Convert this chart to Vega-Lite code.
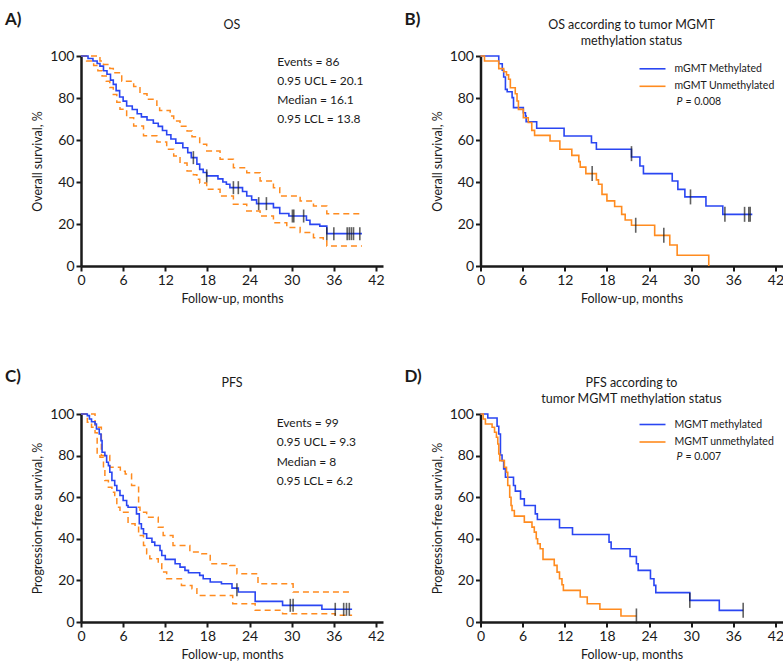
{
"$schema": "https://vega.github.io/schema/vega-lite/v6.json",
"background": "white",
"padding": {"left": 5, "top": 10, "right": 0, "bottom": 0},
"config": {
  "view": {"stroke": null},
  "font": "Lato",
  "axis": {"grid": false, "domainColor": "#1a1a1a", "domainWidth": 2.5, "tickColor": "#1a1a1a", "tickWidth": 2, "tickSize": 5, "labelFont": "Lato", "labelFontSize": 14, "labelColor": "#1a1a1a", "labelPadding": 2, "titleFont": "Lato", "titleFontSize": 12.5, "titleFontWeight": "normal", "titleColor": "#1a1a1a", "labelFlush": false, "labelOverlap": false, "titlePadding": 5},
  "legend": {"padding": 0, "labelFont": "Lato", "labelFontSize": 10.5, "labelColor": "#1a1a1a", "titleFont": "Lato"}
},
"datasets": {
  "A_est": [{"t":0,"s":100},{"t":1.0,"s":98.8},{"t":1.7,"s":97.6},{"t":2.3,"s":96.4},{"t":2.7,"s":95.2},{"t":3.2,"s":93},{"t":3.7,"s":91.3},{"t":4.2,"s":88.5},{"t":4.6,"s":86.5},{"t":5.0,"s":83.5},{"t":5.5,"s":80.5},{"t":6.0,"s":78.5},{"t":6.5,"s":76.2},{"t":7.3,"s":74.5},{"t":8.0,"s":72.5},{"t":8.6,"s":71},{"t":9.4,"s":69.5},{"t":10.3,"s":68},{"t":11.0,"s":66.5},{"t":11.6,"s":64.5},{"t":12.2,"s":62.5},{"t":12.8,"s":60.5},{"t":13.5,"s":58.5},{"t":14.5,"s":56.3},{"t":15.2,"s":54},{"t":15.7,"s":51.6},{"t":16.5,"s":48.5},{"t":16.9,"s":46},{"t":17.4,"s":44.5},{"t":17.9,"s":42.9},{"t":19.5,"s":41.5},{"t":20.2,"s":40},{"t":20.7,"s":38.9},{"t":21.2,"s":37.3},{"t":23.0,"s":35.5},{"t":23.6,"s":33.3},{"t":24.3,"s":31.5},{"t":25.0,"s":29.7},{"t":27.4,"s":27.8},{"t":28.3,"s":25},{"t":29.6,"s":23.8},{"t":32.1,"s":21.8},{"t":32.6,"s":19.8},{"t":34.0,"s":19},{"t":35.0,"s":15.4},{"t":40.0,"s":15.4}],
  "A_ci": [
    {"g":"u","t":0,"s":100},{"g":"u","t":2.7,"s":97.6},{"g":"u","t":3.2,"s":96},{"g":"u","t":4.1,"s":94},{"g":"u","t":4.6,"s":92},{"g":"u","t":5.8,"s":88},{"g":"u","t":7.5,"s":85.5},{"g":"u","t":8.4,"s":82},{"g":"u","t":9.4,"s":79.4},{"g":"u","t":10.8,"s":76.5},{"g":"u","t":11.2,"s":74},{"g":"u","t":12.7,"s":71.4},{"g":"u","t":13.2,"s":69},{"g":"u","t":14.1,"s":66.5},{"g":"u","t":15.1,"s":64.3},{"g":"u","t":15.8,"s":61.5},{"g":"u","t":16.9,"s":58},{"g":"u","t":17.9,"s":54.8},{"g":"u","t":19.8,"s":50.8},{"g":"u","t":21.7,"s":46.8},{"g":"u","t":23.6,"s":44.4},{"g":"u","t":25.5,"s":40.5},{"g":"u","t":27.4,"s":37.3},{"g":"u","t":28.3,"s":33.3},{"g":"u","t":31.2,"s":31},{"g":"u","t":33.1,"s":28.6},{"g":"u","t":35.0,"s":24.9},{"g":"u","t":40.0,"s":24.9},
    {"g":"l","t":0,"s":100},{"g":"l","t":0.8,"s":97.6},{"g":"l","t":1.8,"s":95.5},{"g":"l","t":2.4,"s":93},{"g":"l","t":3.0,"s":90.5},{"g":"l","t":3.6,"s":88},{"g":"l","t":4.1,"s":85},{"g":"l","t":4.6,"s":81.7},{"g":"l","t":5.1,"s":78},{"g":"l","t":5.55,"s":74.6},{"g":"l","t":6.5,"s":70.6},{"g":"l","t":7.5,"s":66.7},{"g":"l","t":8.9,"s":62},{"g":"l","t":10.8,"s":59},{"g":"l","t":12.2,"s":55.6},{"g":"l","t":13.2,"s":52.4},{"g":"l","t":14.1,"s":49},{"g":"l","t":15.1,"s":45.2},{"g":"l","t":16.0,"s":43.5},{"g":"l","t":16.5,"s":41.3},{"g":"l","t":16.9,"s":39.5},{"g":"l","t":17.9,"s":36.5},{"g":"l","t":19.8,"s":33.3},{"g":"l","t":21.7,"s":29.4},{"g":"l","t":23.6,"s":26.2},{"g":"l","t":25.5,"s":23.8},{"g":"l","t":27.4,"s":20.6},{"g":"l","t":29.3,"s":18.3},{"g":"l","t":31.2,"s":15.9},{"g":"l","t":33.1,"s":13.5},{"g":"l","t":34.5,"s":11.9},{"g":"l","t":35.0,"s":9.5},{"g":"l","t":40.0,"s":9.5}],
  "A_cens": [{"t":16.0,"s":51.6},{"t":17.9,"s":42.9},{"t":21.7,"s":37.3},{"t":22.4,"s":37.3},{"t":25.3,"s":29.7},{"t":26.4,"s":29.7},{"t":30.1,"s":23.8},{"t":30.3,"s":23.8},{"t":31.7,"s":23.8},{"t":35.0,"s":15.4},{"t":36.0,"s":15.4},{"t":37.9,"s":15.4},{"t":38.2,"s":15.4},{"t":38.5,"s":15.4},{"t":38.8,"s":15.4},{"t":39.7,"s":15.4}],
  "B_km": [
    {"g":"mGMT Methylated","t":0,"s":100},{"g":"mGMT Methylated","t":2.6,"s":96.3},{"g":"mGMT Methylated","t":3.1,"s":93.2},{"g":"mGMT Methylated","t":3.3,"s":90},{"g":"mGMT Methylated","t":3.55,"s":84.1},{"g":"mGMT Methylated","t":3.8,"s":83},{"g":"mGMT Methylated","t":4.5,"s":80.2},{"g":"mGMT Methylated","t":4.7,"s":75.4},{"g":"mGMT Methylated","t":6.1,"s":73},{"g":"mGMT Methylated","t":6.4,"s":71.4},{"g":"mGMT Methylated","t":6.5,"s":68.7},{"g":"mGMT Methylated","t":8.0,"s":65.6},{"g":"mGMT Methylated","t":11.9,"s":61.9},{"g":"mGMT Methylated","t":15.8,"s":58.7},{"g":"mGMT Methylated","t":16.5,"s":55.6},{"g":"mGMT Methylated","t":21.5,"s":51.9},{"g":"mGMT Methylated","t":22.7,"s":47.6},{"g":"mGMT Methylated","t":23.2,"s":44},{"g":"mGMT Methylated","t":27.3,"s":40.5},{"g":"mGMT Methylated","t":28.1,"s":36.5},{"g":"mGMT Methylated","t":29.1,"s":32.9},{"g":"mGMT Methylated","t":32.1,"s":28.6},{"g":"mGMT Methylated","t":34.5,"s":24.6},{"g":"mGMT Methylated","t":38.7,"s":24.6},
    {"g":"mGMT Unmethylated","t":0,"s":100},{"g":"mGMT Unmethylated","t":0.57,"s":97.6},{"g":"mGMT Unmethylated","t":2.6,"s":94},{"g":"mGMT Unmethylated","t":3.3,"s":92.5},{"g":"mGMT Unmethylated","t":3.7,"s":91},{"g":"mGMT Unmethylated","t":4.0,"s":88.9},{"g":"mGMT Unmethylated","t":4.25,"s":84.9},{"g":"mGMT Unmethylated","t":4.95,"s":82},{"g":"mGMT Unmethylated","t":5.2,"s":78.6},{"g":"mGMT Unmethylated","t":5.4,"s":74.6},{"g":"mGMT Unmethylated","t":6.1,"s":70.6},{"g":"mGMT Unmethylated","t":6.8,"s":68.3},{"g":"mGMT Unmethylated","t":7.3,"s":64.6},{"g":"mGMT Unmethylated","t":7.7,"s":62.2},{"g":"mGMT Unmethylated","t":9.9,"s":59.5},{"g":"mGMT Unmethylated","t":11.3,"s":55.6},{"g":"mGMT Unmethylated","t":13.0,"s":52.7},{"g":"mGMT Unmethylated","t":14.0,"s":49.7},{"g":"mGMT Unmethylated","t":14.2,"s":47.1},{"g":"mGMT Unmethylated","t":15.0,"s":44},{"g":"mGMT Unmethylated","t":16.5,"s":41},{"g":"mGMT Unmethylated","t":16.8,"s":38.9},{"g":"mGMT Unmethylated","t":17.3,"s":34.1},{"g":"mGMT Unmethylated","t":18.0,"s":31},{"g":"mGMT Unmethylated","t":19.1,"s":28.3},{"g":"mGMT Unmethylated","t":20.1,"s":24.6},{"g":"mGMT Unmethylated","t":20.6,"s":21.9},{"g":"mGMT Unmethylated","t":21.5,"s":19.4},{"g":"mGMT Unmethylated","t":24.8,"s":14.6},{"g":"mGMT Unmethylated","t":26.95,"s":10},{"g":"mGMT Unmethylated","t":28.0,"s":5.1},{"g":"mGMT Unmethylated","t":32.5,"s":0}],
  "B_cens": [{"t":21.5,"s":53.5},{"t":29.9,"s":32.9},{"t":34.8,"s":24.6},{"t":37.6,"s":24.6},{"t":38.2,"s":24.6},{"t":38.4,"s":24.6},{"t":15.9,"s":44},{"t":22.1,"s":19.4},{"t":26.1,"s":14.6}],
  "C_est": [{"t":0,"s":100},{"t":0.9,"s":99.2},{"t":1.2,"s":97.6},{"t":1.5,"s":96.3},{"t":2.0,"s":95.2},{"t":2.2,"s":92.8},{"t":2.6,"s":90.4},{"t":2.85,"s":87.2},{"t":3.0,"s":81.6},{"t":3.4,"s":80},{"t":3.65,"s":76.8},{"t":3.9,"s":75.2},{"t":4.1,"s":72},{"t":4.4,"s":68},{"t":4.8,"s":65.6},{"t":5.1,"s":63.2},{"t":5.55,"s":60.8},{"t":6.0,"s":58.4},{"t":6.5,"s":56},{"t":6.7,"s":55.2},{"t":7.9,"s":52},{"t":8.3,"s":47.2},{"t":8.6,"s":44.8},{"t":8.9,"s":42.4},{"t":9.35,"s":40.3},{"t":10.1,"s":38.4},{"t":10.5,"s":36.8},{"t":11.25,"s":34.4},{"t":11.5,"s":32},{"t":12.0,"s":30.1},{"t":13.4,"s":28},{"t":14.1,"s":26.4},{"t":14.8,"s":24.8},{"t":15.3,"s":23.7},{"t":16.9,"s":22.4},{"t":17.4,"s":20.8},{"t":18.4,"s":19.2},{"t":20.0,"s":18.4},{"t":21.5,"s":16.3},{"t":22.4,"s":14.4},{"t":24.8,"s":9.9},{"t":28.7,"s":8},{"t":34.3,"s":6.1},{"t":38.6,"s":6.1}],
  "C_ci": [
    {"g":"u","t":0,"s":100},{"g":"u","t":2.0,"s":93.6},{"g":"u","t":2.9,"s":80},{"g":"u","t":4.1,"s":74.4},{"g":"u","t":5.6,"s":72.5},{"g":"u","t":6.3,"s":71.2},{"g":"u","t":7.2,"s":65.6},{"g":"u","t":8.2,"s":55.2},{"g":"u","t":8.4,"s":52.8},{"g":"u","t":9.35,"s":50.4},{"g":"u","t":11.0,"s":45.6},{"g":"u","t":11.7,"s":41.6},{"g":"u","t":13.1,"s":36.8},{"g":"u","t":15.5,"s":33.6},{"g":"u","t":17.2,"s":32.8},{"g":"u","t":18.4,"s":28},{"g":"u","t":21.2,"s":27.2},{"g":"u","t":22.2,"s":23.2},{"g":"u","t":25.2,"s":18.4},{"g":"u","t":30.2,"s":14.4},{"g":"u","t":38.6,"s":14.4},
    {"g":"l","t":0,"s":100},{"g":"l","t":0.9,"s":96},{"g":"l","t":1.5,"s":93.6},{"g":"l","t":2.0,"s":91},{"g":"l","t":2.3,"s":80.8},{"g":"l","t":2.7,"s":79.2},{"g":"l","t":3.2,"s":73.6},{"g":"l","t":3.4,"s":68},{"g":"l","t":3.9,"s":64.8},{"g":"l","t":4.4,"s":62.4},{"g":"l","t":4.8,"s":59.2},{"g":"l","t":5.1,"s":55.2},{"g":"l","t":5.55,"s":52.8},{"g":"l","t":6.7,"s":47.2},{"g":"l","t":7.7,"s":45.6},{"g":"l","t":8.2,"s":41.6},{"g":"l","t":8.9,"s":36.8},{"g":"l","t":9.35,"s":32.8},{"g":"l","t":9.8,"s":30.4},{"g":"l","t":11.0,"s":28},{"g":"l","t":11.5,"s":24},{"g":"l","t":12.2,"s":20.8},{"g":"l","t":14.3,"s":17.6},{"g":"l","t":15.8,"s":16},{"g":"l","t":16.5,"s":12.8},{"g":"l","t":21.6,"s":8.8},{"g":"l","t":24.8,"s":5.6},{"g":"l","t":28.7,"s":4},{"g":"l","t":36.2,"s":3.2},{"g":"l","t":38.6,"s":3.2}],
  "C_cens": [{"t":22.2,"s":15.5},{"t":29.8,"s":8},{"t":30.2,"s":8},{"t":36.2,"s":6.1},{"t":37.4,"s":6.1},{"t":37.8,"s":6.1},{"t":38.2,"s":6.1}],
  "D_km": [
    {"g":"MGMT methylated","t":0,"s":100},{"g":"MGMT methylated","t":1.04,"s":98.1},{"g":"MGMT methylated","t":2.36,"s":94.1},{"g":"MGMT methylated","t":2.6,"s":90.4},{"g":"MGMT methylated","t":2.84,"s":80.3},{"g":"MGMT methylated","t":3.07,"s":77.6},{"g":"MGMT methylated","t":3.3,"s":73.6},{"g":"MGMT methylated","t":3.55,"s":69.6},{"g":"MGMT methylated","t":4.7,"s":65.6},{"g":"MGMT methylated","t":4.96,"s":62.9},{"g":"MGMT methylated","t":5.7,"s":59.2},{"g":"MGMT methylated","t":6.24,"s":56},{"g":"MGMT methylated","t":7.8,"s":52},{"g":"MGMT methylated","t":8.1,"s":49.3},{"g":"MGMT methylated","t":11.25,"s":45.3},{"g":"MGMT methylated","t":13.1,"s":42.1},{"g":"MGMT methylated","t":18.3,"s":38.4},{"g":"MGMT methylated","t":18.6,"s":35.2},{"g":"MGMT methylated","t":21.3,"s":31.5},{"g":"MGMT methylated","t":22.2,"s":28},{"g":"MGMT methylated","t":22.45,"s":24.8},{"g":"MGMT methylated","t":24.2,"s":20.8},{"g":"MGMT methylated","t":24.7,"s":17.6},{"g":"MGMT methylated","t":24.96,"s":14.1},{"g":"MGMT methylated","t":29.8,"s":10.4},{"g":"MGMT methylated","t":34.0,"s":5.6},{"g":"MGMT methylated","t":37.4,"s":5.6},
    {"g":"MGMT unmethylated","t":0,"s":100},{"g":"MGMT unmethylated","t":0.38,"s":97.6},{"g":"MGMT unmethylated","t":0.7,"s":95.2},{"g":"MGMT unmethylated","t":1.65,"s":93.6},{"g":"MGMT unmethylated","t":2.0,"s":91.2},{"g":"MGMT unmethylated","t":2.27,"s":88.8},{"g":"MGMT unmethylated","t":2.46,"s":85.6},{"g":"MGMT unmethylated","t":2.6,"s":80.8},{"g":"MGMT unmethylated","t":2.74,"s":77.6},{"g":"MGMT unmethylated","t":3.4,"s":74.4},{"g":"MGMT unmethylated","t":3.7,"s":72},{"g":"MGMT unmethylated","t":3.88,"s":65.6},{"g":"MGMT unmethylated","t":4.16,"s":60},{"g":"MGMT unmethylated","t":4.35,"s":56},{"g":"MGMT unmethylated","t":4.49,"s":53.6},{"g":"MGMT unmethylated","t":4.82,"s":50.9},{"g":"MGMT unmethylated","t":6.24,"s":48},{"g":"MGMT unmethylated","t":7.33,"s":45.6},{"g":"MGMT unmethylated","t":7.66,"s":43.2},{"g":"MGMT unmethylated","t":7.94,"s":40},{"g":"MGMT unmethylated","t":8.13,"s":37.6},{"g":"MGMT unmethylated","t":8.5,"s":35.2},{"g":"MGMT unmethylated","t":8.9,"s":30.1},{"g":"MGMT unmethylated","t":10.5,"s":27.2},{"g":"MGMT unmethylated","t":10.9,"s":24},{"g":"MGMT unmethylated","t":11.25,"s":20.8},{"g":"MGMT unmethylated","t":11.6,"s":17.9},{"g":"MGMT unmethylated","t":11.8,"s":15.2},{"g":"MGMT unmethylated","t":14.2,"s":12},{"g":"MGMT unmethylated","t":15.2,"s":8.8},{"g":"MGMT unmethylated","t":17.0,"s":6.1},{"g":"MGMT unmethylated","t":20.0,"s":2.9},{"g":"MGMT unmethylated","t":22.2,"s":2.9}],
  "D_cens": [{"t":29.8,"s":10.4},{"t":37.4,"s":5.6},{"t":22.2,"s":2.9}]
},
"resolve": {"scale": {"color": "independent", "x": "independent", "y": "independent"}, "legend": {"color": "independent"}},
"spacing": 63,
"vconcat": [
 {"spacing": 19.5,
  "resolve": {"scale": {"color": "independent", "x": "independent", "y": "independent"}, "legend": {"color": "independent"}},
  "hconcat": [
  {"width": 302, "height": 210,
   "layer": [
    {"data": {"name": "A_ci"}, "mark": {"type": "line", "interpolate": "step-after", "color": "#ff8b1f", "strokeWidth": 1.5, "strokeDash": [6, 4]},
     "encoding": {
      "x": {"field": "t", "type": "quantitative", "scale": {"domain": [0, 43], "nice": false}, "axis": {"values": [0, 6, 12, 18, 24, 30, 36, 42], "title": "Follow-up, months"}},
      "y": {"field": "s", "type": "quantitative", "scale": {"domain": [0, 100], "nice": false}, "axis": {"values": [0, 20, 40, 60, 80, 100], "title": "Overall survival, %"}},
      "detail": {"field": "g"}}},
    {"data": {"name": "A_est"}, "mark": {"type": "line", "interpolate": "step-after", "color": "#2a46f2", "strokeWidth": 1.6},
     "encoding": {"x": {"field": "t", "type": "quantitative"}, "y": {"field": "s", "type": "quantitative"}}},
    {"data": {"name": "A_cens"}, "mark": {"type": "tick", "orient": "vertical", "color": "#1e1e1e", "size": 13, "thickness": 1.6},
     "encoding": {"x": {"field": "t", "type": "quantitative"}, "y": {"field": "s", "type": "quantitative"}}},
    {"data": {"values": [{}]}, "mark": {"type": "text", "align": "left", "baseline": "alphabetic", "fontSize": 12, "lineHeight": 19, "color": "#1a1a1a"},
     "encoding": {"x": {"datum": 27.95}, "y": {"datum": 95.2}, "text": {"value": ["Events = 86", "0.95 UCL = 20.1", "Median = 16.1", "0.95 LCL = 13.8"]}}},
    {"data": {"values": [{}]}, "mark": {"type": "text", "align": "center", "baseline": "alphabetic", "fontSize": 12.5, "color": "#1a1a1a"},
     "encoding": {"x": {"datum": 21.5}, "y": {"datum": 112.7}, "text": {"value": "OS"}}},
    {"data": {"values": [{}]}, "mark": {"type": "text", "align": "left", "baseline": "alphabetic", "fontSize": 17, "fontWeight": "bold", "color": "#1a1a1a"},
     "encoding": {"x": {"datum": -10.82}, "y": {"datum": 114.8}, "text": {"value": "A)"}}}
   ]},
  {"width": 302, "height": 210,
   "layer": [
    {"data": {"name": "B_km"}, "mark": {"type": "line", "interpolate": "step-after", "strokeWidth": 1.6},
     "encoding": {
      "x": {"field": "t", "type": "quantitative", "scale": {"domain": [0, 43], "nice": false}, "axis": {"values": [0, 6, 12, 18, 24, 30, 36, 42], "title": "Follow-up, months"}},
      "y": {"field": "s", "type": "quantitative", "scale": {"domain": [0, 100], "nice": false}, "axis": {"values": [0, 20, 40, 60, 80, 100], "title": "Overall survival, %"}},
      "color": {"field": "g", "type": "nominal", "scale": {"domain": ["mGMT Methylated", "mGMT Unmethylated"], "range": ["#2a46f2", "#ff8b1f"]},
       "legend": {"orient": "none", "legendX": 166, "legendY": 6.8, "title": null, "symbolType": "M-2.6,0H2.6", "symbolSize": 100, "symbolStrokeWidth": 1.6, "labelOffset": 16, "rowPadding": 5.5, "labelFontSize": 10.5}}}},
    {"data": {"name": "B_cens"}, "mark": {"type": "tick", "orient": "vertical", "color": "#1e1e1e", "size": 15, "thickness": 1.6},
     "encoding": {"x": {"field": "t", "type": "quantitative"}, "y": {"field": "s", "type": "quantitative"}}},
    {"data": {"values": [{}]}, "mark": {"type": "text", "align": "left", "baseline": "alphabetic", "fontSize": 10.5, "fontStyle": "italic", "color": "#1a1a1a"},
     "encoding": {"x": {"datum": 27.9}, "y": {"datum": 76.8}, "text": {"value": "P"}}},
    {"data": {"values": [{}]}, "mark": {"type": "text", "align": "left", "baseline": "alphabetic", "fontSize": 10.5, "dx": 9, "color": "#1a1a1a"},
     "encoding": {"x": {"datum": 27.9}, "y": {"datum": 76.8}, "text": {"value": "= 0.008"}}},
    {"data": {"values": [{}]}, "mark": {"type": "text", "align": "center", "baseline": "alphabetic", "fontSize": 12.5, "lineHeight": 16, "color": "#1a1a1a"},
     "encoding": {"x": {"datum": 21.5}, "y": {"datum": 112.7}, "text": {"value": ["OS according to tumor MGMT", "methylation status"]}}},
    {"data": {"values": [{}]}, "mark": {"type": "text", "align": "left", "baseline": "alphabetic", "fontSize": 17, "fontWeight": "bold", "color": "#1a1a1a"},
     "encoding": {"x": {"datum": -10.82}, "y": {"datum": 114.8}, "text": {"value": "B)"}}}
   ]}
 ]},
 {"spacing": 19.5,
  "resolve": {"scale": {"color": "independent", "x": "independent", "y": "independent"}, "legend": {"color": "independent"}},
  "hconcat": [
  {"width": 302, "height": 208,
   "layer": [
    {"data": {"name": "C_ci"}, "mark": {"type": "line", "interpolate": "step-after", "color": "#ff8b1f", "strokeWidth": 1.5, "strokeDash": [6, 4]},
     "encoding": {
      "x": {"field": "t", "type": "quantitative", "scale": {"domain": [0, 43], "nice": false}, "axis": {"values": [0, 6, 12, 18, 24, 30, 36, 42], "title": "Follow-up, months"}},
      "y": {"field": "s", "type": "quantitative", "scale": {"domain": [0, 100], "nice": false}, "axis": {"values": [0, 20, 40, 60, 80, 100], "title": "Progression-free survival, %"}},
      "detail": {"field": "g"}}},
    {"data": {"name": "C_est"}, "mark": {"type": "line", "interpolate": "step-after", "color": "#2a46f2", "strokeWidth": 1.6},
     "encoding": {"x": {"field": "t", "type": "quantitative"}, "y": {"field": "s", "type": "quantitative"}}},
    {"data": {"name": "C_cens"}, "mark": {"type": "tick", "orient": "vertical", "color": "#1e1e1e", "size": 13, "thickness": 1.6},
     "encoding": {"x": {"field": "t", "type": "quantitative"}, "y": {"field": "s", "type": "quantitative"}}},
    {"data": {"values": [{}]}, "mark": {"type": "text", "align": "left", "baseline": "alphabetic", "fontSize": 12, "lineHeight": 19.4, "color": "#1a1a1a"},
     "encoding": {"x": {"datum": 27.86}, "y": {"datum": 93.85}, "text": {"value": ["Events = 99", "0.95 UCL = 9.3", "Median = 8", "0.95 LCL = 6.2"]}}},
    {"data": {"values": [{}]}, "mark": {"type": "text", "align": "center", "baseline": "alphabetic", "fontSize": 12.5, "color": "#1a1a1a"},
     "encoding": {"x": {"datum": 21.5}, "y": {"datum": 112.8}, "text": {"value": "PFS"}}},
    {"data": {"values": [{}]}, "mark": {"type": "text", "align": "left", "baseline": "alphabetic", "fontSize": 17, "fontWeight": "bold", "color": "#1a1a1a"},
     "encoding": {"x": {"datum": -10.82}, "y": {"datum": 115.2}, "text": {"value": "C)"}}}
   ]},
  {"width": 302, "height": 208,
   "layer": [
    {"data": {"name": "D_km"}, "mark": {"type": "line", "interpolate": "step-after", "strokeWidth": 1.6},
     "encoding": {
      "x": {"field": "t", "type": "quantitative", "scale": {"domain": [0, 43], "nice": false}, "axis": {"values": [0, 6, 12, 18, 24, 30, 36, 42], "title": "Follow-up, months"}},
      "y": {"field": "s", "type": "quantitative", "scale": {"domain": [0, 100], "nice": false}, "axis": {"values": [0, 20, 40, 60, 80, 100], "title": "Progression-free survival, %"}},
      "color": {"field": "g", "type": "nominal", "scale": {"domain": ["MGMT methylated", "MGMT unmethylated"], "range": ["#2a46f2", "#ff8b1f"]},
       "legend": {"orient": "none", "legendX": 166, "legendY": 4.5, "title": null, "symbolType": "M-2.6,0H2.6", "symbolSize": 100, "symbolStrokeWidth": 1.6, "labelOffset": 16, "rowPadding": 5.5, "labelFontSize": 10.5}}}},
    {"data": {"name": "D_cens"}, "mark": {"type": "tick", "orient": "vertical", "color": "#1e1e1e", "size": 15, "thickness": 1.6},
     "encoding": {"x": {"field": "t", "type": "quantitative"}, "y": {"field": "s", "type": "quantitative"}}},
    {"data": {"values": [{}]}, "mark": {"type": "text", "align": "left", "baseline": "alphabetic", "fontSize": 10.5, "fontStyle": "italic", "color": "#1a1a1a"},
     "encoding": {"x": {"datum": 27.9}, "y": {"datum": 77.9}, "text": {"value": "P"}}},
    {"data": {"values": [{}]}, "mark": {"type": "text", "align": "left", "baseline": "alphabetic", "fontSize": 10.5, "dx": 9, "color": "#1a1a1a"},
     "encoding": {"x": {"datum": 27.9}, "y": {"datum": 77.9}, "text": {"value": "= 0.007"}}},
    {"data": {"values": [{}]}, "mark": {"type": "text", "align": "center", "baseline": "alphabetic", "fontSize": 12.5, "lineHeight": 15.7, "color": "#1a1a1a"},
     "encoding": {"x": {"datum": 21.5}, "y": {"datum": 112.8}, "text": {"value": ["PFS according to", "tumor MGMT methylation status"]}}},
    {"data": {"values": [{}]}, "mark": {"type": "text", "align": "left", "baseline": "alphabetic", "fontSize": 17, "fontWeight": "bold", "color": "#1a1a1a"},
     "encoding": {"x": {"datum": -10.82}, "y": {"datum": 115.2}, "text": {"value": "D)"}}}
   ]}
 ]}
]
}
